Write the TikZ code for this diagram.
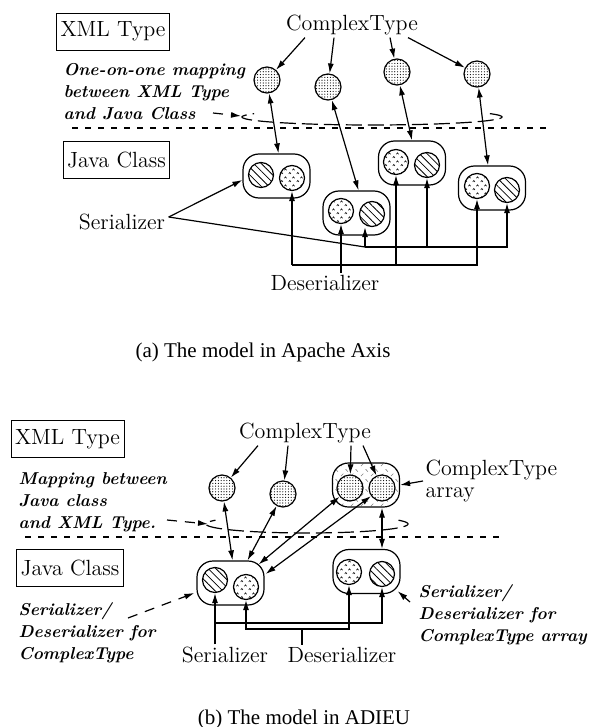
\documentclass[tikz,border=0pt]{standalone}
\usepackage{fontspec}
\newfontfamily\capfont{Liberation Serif}
\usetikzlibrary{arrows.meta,patterns,patterns.meta,calc,positioning}

\pgfdeclarepatternformonly{finedots}{\pgfqpoint{-0.5pt}{-0.5pt}}{\pgfqpoint{0.5pt}{0.5pt}}{\pgfqpoint{1.4pt}{1.4pt}}{%
  \pgfpathcircle{\pgfqpoint{0pt}{0pt}}{0.3pt}\pgfusepath{fill}}
\pgfdeclarepatternformonly{carets}{\pgfqpoint{0pt}{0pt}}{\pgfqpoint{4pt}{4pt}}{\pgfqpoint{4pt}{4pt}}{%
  \pgfsetlinewidth{0.3pt}
  \pgfpathmoveto{\pgfqpoint{0.4pt}{0.6pt}}\pgfpathlineto{\pgfqpoint{1pt}{1.4pt}}\pgfpathlineto{\pgfqpoint{1.6pt}{0.6pt}}
  \pgfpathmoveto{\pgfqpoint{2.4pt}{2.6pt}}\pgfpathlineto{\pgfqpoint{3pt}{3.4pt}}\pgfpathlineto{\pgfqpoint{3.6pt}{2.6pt}}
  \pgfusepath{stroke}}
\pgfdeclarepatternformonly{slashes}{\pgfqpoint{0pt}{0pt}}{\pgfqpoint{5pt}{5pt}}{\pgfqpoint{5pt}{5pt}}{%
  \pgfsetlinewidth{0.35pt}
  \pgfpathmoveto{\pgfqpoint{0.5pt}{0.5pt}}\pgfpathlineto{\pgfqpoint{1.8pt}{1.8pt}}
  \pgfpathmoveto{\pgfqpoint{3pt}{4.2pt}}\pgfpathlineto{\pgfqpoint{4.3pt}{2.9pt}}
  \pgfusepath{stroke}}

\begin{document}
\begin{tikzpicture}[x=0.5pt,y=-0.5pt,semithick,
        typebox/.style={draw,thin,inner xsep=2pt,minimum height=18.5pt,font=\fontsize{11}{13}\selectfont},
        lbl/.style={font=\fontsize{11}{11}\selectfont,inner sep=1pt},
        note/.style={font=\fontsize{8.6}{11}\selectfont\bfseries\itshape,align=left,inner sep=0pt,anchor=north west},
        captext/.style={font=\capfont\fontsize{10.5}{12}\selectfont},
        holder/.style={draw,fill=white,rounded corners=8pt,minimum width=33.5pt,minimum height=22pt},
        xmlobj/.style={circle,draw,inner sep=0pt,minimum size=13pt,preaction={fill=white},pattern=finedots},
        serobj/.style={circle,draw,inner sep=0pt,minimum size=12.5pt,preaction={fill=white},pattern={Lines[angle=-45,distance=2.7pt,line width=0.4pt]}},
        desobj/.style={circle,draw,inner sep=0pt,minimum size=12.5pt,preaction={fill=white},pattern=carets},
        arrow/.style={->},
        dblarrow/.style={<->},
        hint/.style={->,dash pattern=on 5pt off 4pt},
        ringline/.style={dash pattern=on 8pt off 3pt},
        sepline/.style={dash pattern=on 3pt off 3.5pt},
        >={Latex[length=5pt,width=3pt]},
    ]
    \useasboundingbox (0,0) rectangle (592,727);

    % (a) Apache Axis
    \node[typebox] (xmla) at (113,31.5) {XML Type};
    \node[note] (notea) at (63,63) {One-on-one mapping\\between XML Type\\and Java Class};
    \node[typebox] (javaa) at (116.5,160) {Java Class};
    \node[lbl] (ctypea) at (352,25) {ComplexType};

    \node[xmlobj] (xa1) at (267,80) {};
    \node[xmlobj] (xa2) at (328,87) {};
    \node[xmlobj] (xa3) at (397,72) {};
    \node[xmlobj] (xa4) at (477,74) {};

    \node[holder] (ha1) at (276.5,176) {};
    \node[serobj] (sa1) at (261,175) {};
    \node[desobj] (da1) at (292,178) {};
    \node[holder] (ha2) at (356.5,213) {};
    \node[desobj] (da2) at (341,211) {};
    \node[serobj] (sa2) at (372,214) {};
    \node[holder] (ha3) at (412,163) {};
    \node[desobj] (da3) at (396,162) {};
    \node[serobj] (sa3) at (427,165) {};
    \node[holder] (ha4) at (492,188) {};
    \node[desobj] (da4) at (477,186) {};
    \node[serobj] (sa4) at (507,190) {};

    \draw[sepline] (72,128) -- (548,128);
    \draw[ringline] plot[domain=-25:205,samples=80] ({372+130*cos(\x)},{117+8*sin(\x)});
    \coordinate (hinta) at (213,113);
    \coordinate (ringa) at (241,116);
    \draw[hint] (hinta) -- (ringa);

    \draw[arrow] ($(ctypea.south)+(-47,0)$) -- (xa1);
    \draw[arrow] ($(ctypea.south)+(-18,0)$) -- (xa2);
    \draw[arrow] ($(ctypea.south)+(38,0)$) -- (xa3);
    \draw[arrow] ($(ctypea.south)+(56,0)$) -- (xa4);

    \draw[dblarrow] (xa1) -- ($(ha1.north)+(2,0)$);
    \draw[dblarrow] (xa2) -- ($(ha2.north)+(2,0)$);
    \draw[dblarrow] (xa3) -- (ha3.north);
    \draw[dblarrow] (xa4) -- ($(ha4.north)+(-4,0)$);

    \node[lbl] (sera) at (122,222) {Serializer};
    \coordinate (sforka) at ($(sera.east)+(1,-5)$);
    \coordinate (sbusa) at (365,247);
    \draw[arrow] (sforka) -- ($(ha1.west)+(0,4)$);
    \draw (sforka) -- (sbusa);
    \draw[arrow] (sbusa) -- (sbusa |- sa2.south);
    \draw[arrow] (sbusa) -| (sa3.south);
    \draw[arrow] (sbusa) -| (sa4.south);

    \node[lbl] (desa) at (325,283) {Deserializer};
    \coordinate (dbusa) at (292,265);
    \draw[arrow] (desa.north -| da2) -- (da2.south);
    \draw[arrow] (dbusa) -- (da1.south);
    \draw[arrow] (dbusa) -| (da3.south);
    \draw[arrow] (dbusa) -| (da4.south);

    \node[captext] (capa) at (263,352) {(a) The model in Apache Axis};

    % (b) ADIEU
    \node[typebox] (xmlb) at (67.5,439) {XML Type};
    \node[note] (noteb) at (18,472) {Mapping between\\Java class\\and XML Type.};
    \node[typebox] (javab) at (70,568) {Java Class};
    \node[note] (lnoteb) at (18,602) {Serializer/\\Deserializer for\\ComplexType};
    \node[lbl] (ctypeb) at (305,433) {ComplexType};

    \node[xmlobj] (xb1) at (222,488) {};
    \node[xmlobj] (xb2) at (283,494) {};
    \node[holder,pattern=slashes,pattern color=gray] (arrb) at (366,485) {};
    \node[xmlobj] (yb1) at (350,488) {};
    \node[xmlobj] (yb2) at (382,488) {};
    \node[lbl,align=left,anchor=west] (arrlbl) at (423,481) {ComplexType\\array};

    \node[holder] (jl) at (230.5,583) {};
    \node[serobj] (sl) at (215,580) {};
    \node[desobj] (dl) at (246,587) {};
    \node[holder] (jr) at (366.5,571.5) {};
    \node[desobj] (dr) at (349,572) {};
    \node[serobj] (sr) at (382,574) {};
    \node[note] (rnoteb) at (418,584) {Serializer/\\Deserializer for\\ComplexType array};

    \draw[sepline] (25,537) -- (502,537);
    \draw[ringline] plot[domain=-25:205,samples=80] ({307+101*cos(\x)},{524+9*sin(\x)});
    \coordinate (hintb) at (167,520);
    \coordinate (ringb) at (208,524);
    \draw[hint] (hintb) -- (ringb);

    \draw[arrow] ($(ctypeb.south)+(-47,0)$) -- (xb1);
    \draw[arrow] ($(ctypeb.south)+(-17,0)$) -- (xb2);
    \draw[arrow] ($(ctypeb.south)+(46,0)$) -- (yb1);
    \draw[arrow] ($(ctypeb.south)+(58,0)$) -- (yb2);
    \draw[arrow] (arrlbl.west) -- (arrb.east);

    \draw[dblarrow] (xb1) -- ($(jl.north)+(2,0)$);
    \draw[dblarrow] (xb2) -- ($(jl.north)+(17,0)$);
    \draw[dblarrow] (yb1) -- ($(jl.north east)+(-6,4)$);
    \draw[dblarrow] (yb2) -- ($(jl.east)+(1,-9)$);
    \draw[dblarrow] (arrb.south -| yb2) -- (jr.north -| yb2);

    \coordinate (hintl) at (128,618);
    \draw[hint] (hintl) -- ($(jl.west)+(-2,10)$);
    \coordinate (hintr) at (410,602);
    \draw[hint] (hintr) -- ($(jr.south east)+(-3,-3)$);

    \node[lbl] (serb) at (225,655) {Serializer};
    \node[lbl] (desb) at (342,655) {Deserializer};
    \coordinate (sbusb) at (215,623);
    \coordinate (dbusb) at (302,629);
    \draw[arrow] (serb.north -| sl) -- (sl.south);
    \draw[arrow] (sbusb) -| (sr.south);
    \draw (desb.north -| dbusb) -- (dbusb);
    \draw[arrow] (dbusb) -| (dl.south);
    \draw[arrow] (dbusb) -| (dr.south);

    \node[captext] (capb) at (304,719) {(b) The model in ADIEU};
\end{tikzpicture}
\end{document}
